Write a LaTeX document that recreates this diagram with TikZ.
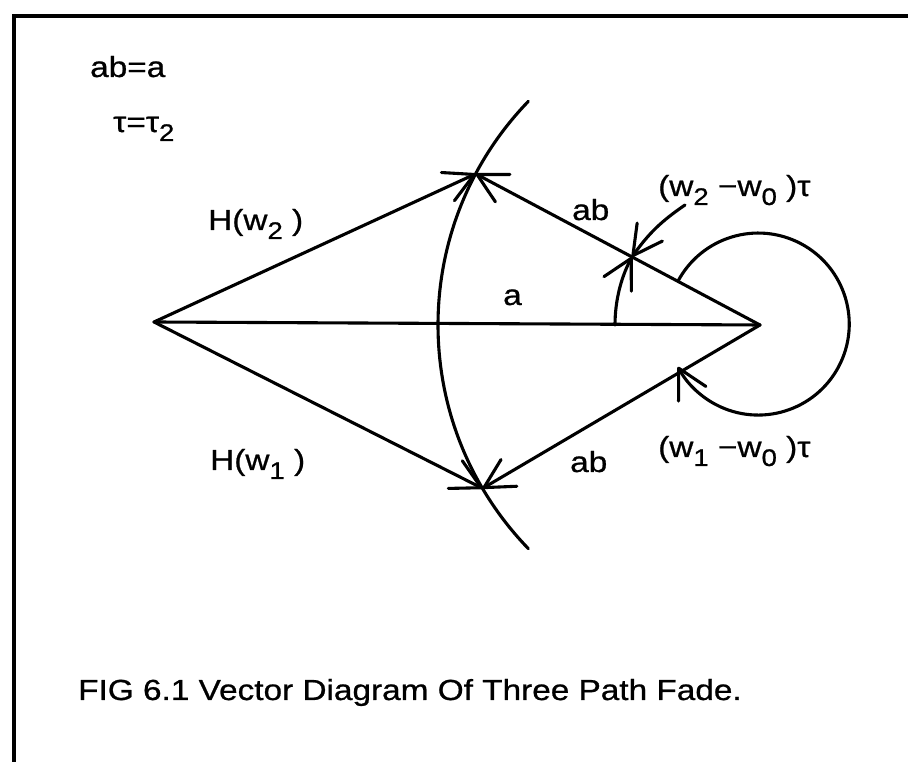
\documentclass[tikz,border=0pt]{standalone}
\usepackage{fontspec}
\setmainfont{Liberation Sans}[FakeStretch=1.15,FakeBold=0.8]
\usetikzlibrary{arrows.meta}
\newcommand\sbs[1]{\raisebox{-9pt}{\fontsize{24}{24}\selectfont #1}}
\tikzset{
  ln/.style={line width=3.1pt, line cap=round, line join=round},
  vec/.style={ln, -{Straight Barb[length=29pt,width=31pt,line width=3.1pt,round]}},
  lbl/.style={inner sep=0pt, anchor=base west, font=\fontsize{29}{32}\selectfont},
  captxt/.style={inner sep=0pt, anchor=base west, font=\fontsize{29}{34}\selectfont}
}
\begin{document}
\begin{tikzpicture}[x=1pt,y=1pt]
\useasboundingbox (0,0) rectangle (908,762);
% frame (only left and top edges visible)
\coordinate (f1) at (14,-2);
\coordinate (f2) at (14,746);
\coordinate (f3) at (910,746);
\draw[line width=3.6pt] (f1) -- (f2) -- (f3);
% main points
\coordinate (O) at (154,440);
\coordinate (R) at (760,437);
\coordinate (T) at ([shift={(152:322)}]R);
\coordinate (B) at ([shift={(210.5:322)}]R);
% vectors
\draw[ln] (O) -- (R);
\draw[vec] (O) -- (T);
\draw[vec] (R) -- (T);
\draw[vec] (O) -- (B);
\draw[vec] (R) -- (B);
% big arc centred on R
\draw[ln] ([shift={(136:322)}]R) arc[start angle=136, end angle=224, radius=322];
% small angle arc
\draw[vec] ([shift={(180:145)}]R) arc[start angle=180, end angle=152, radius=145];
% large loop
\draw[vec] ([shift={(152:93)}]R) arc[start angle=152, end angle=-152, radius=91];
% label arrow
\coordinate (la) at (685,557);
\coordinate (lb) at ([shift={(152:145)}]R);
\draw[vec] (la) to[bend right=10] (lb);
% labels
\node[lbl] (t1) at (90,685) {ab=a};
\node[lbl] (t2) at (113,630) {τ=τ\sbs{2}};
\node[lbl] (h2) at (208,532) {H(w\sbs{2} )};
\node[lbl] (ab1) at (572,542) {ab};
\node[lbl] (a) at (503,457) {a};
\node[lbl] (p2) at (658,566) {(w\sbs{2} −w\sbs{0} )τ};
\node[lbl] (h1) at (210,292) {H(w\sbs{1} )};
\node[lbl] (ab2) at (570,290) {ab};
\node[lbl] (p1) at (658,305) {(w\sbs{1} −w\sbs{0} )τ};
\node[captxt] (c) at (78,62) {FIG 6.1 Vector Diagram Of Three Path Fade.};
\end{tikzpicture}
\end{document}
